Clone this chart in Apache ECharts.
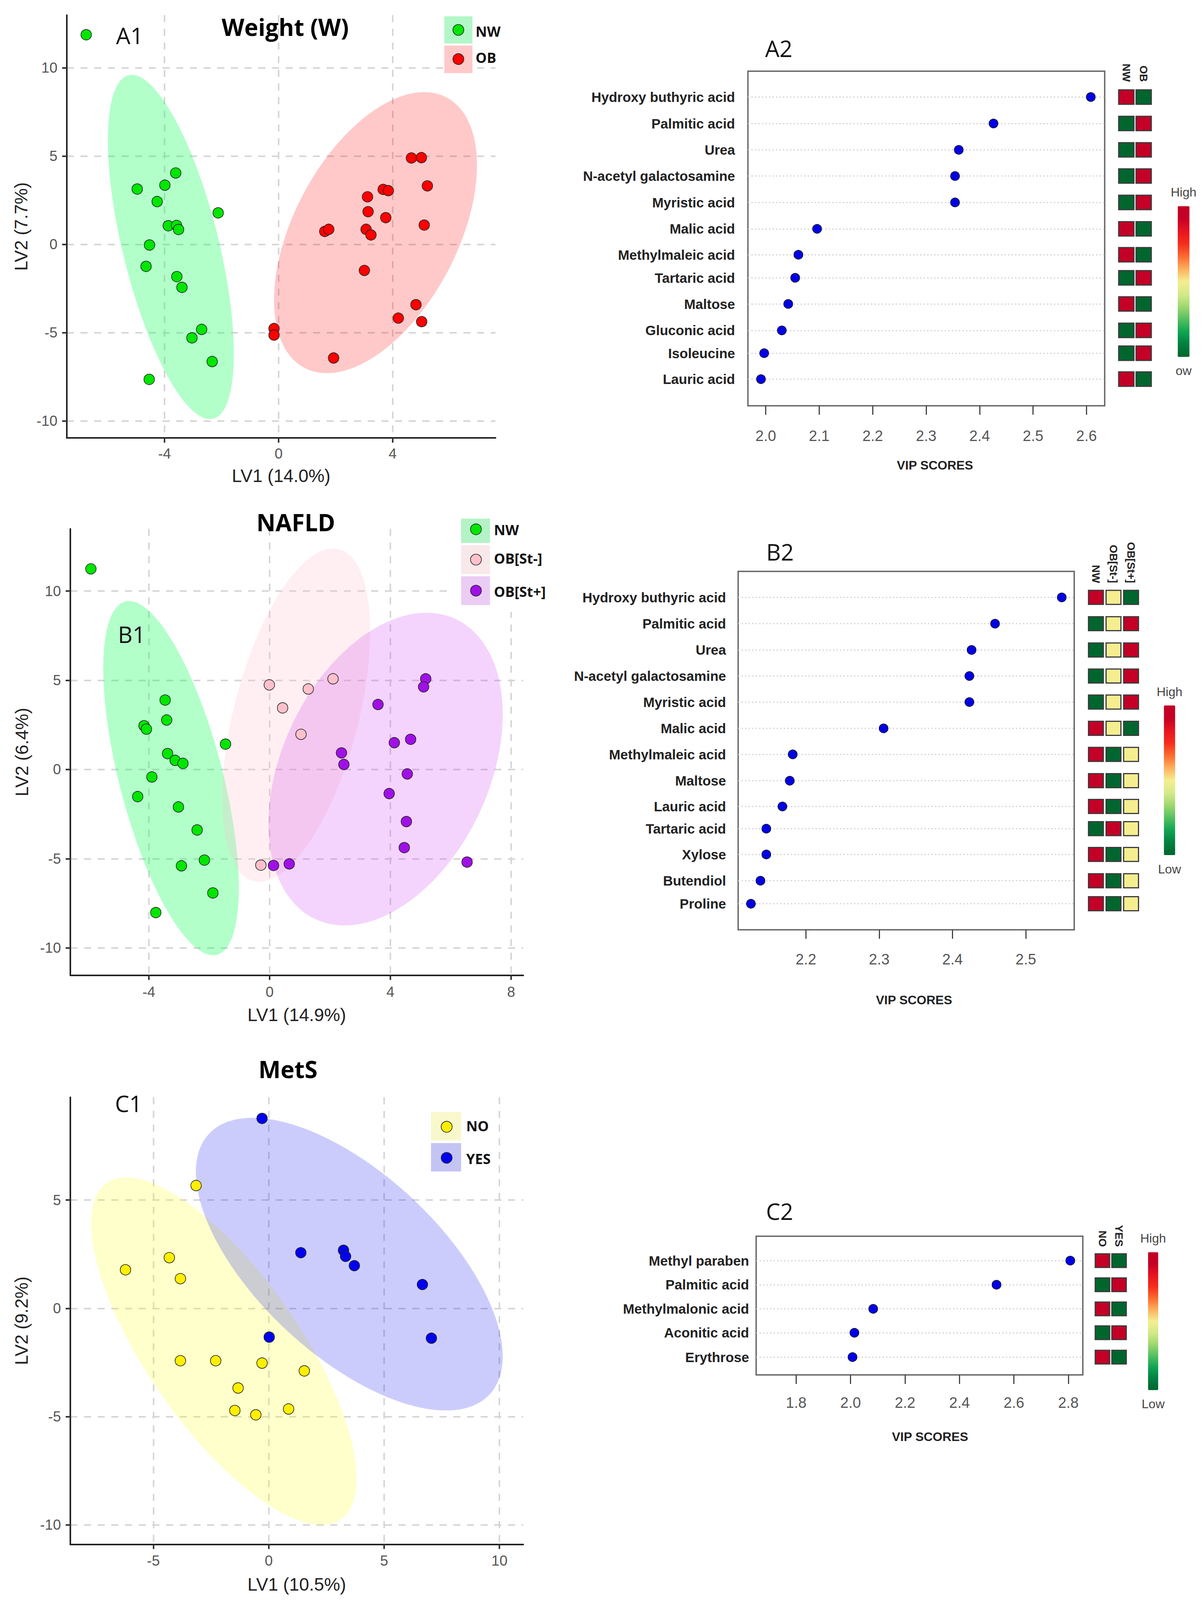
<!DOCTYPE html>
<html>
<head>
<meta charset="utf-8">
<style>html,body{margin:0;padding:0;background:#fff;overflow:hidden}#main{width:3076px;height:100vh}</style>
<script src="https://cdn.jsdelivr.net/npm/echarts@6/dist/echarts.min.js"></script>
</head>
<body>
<div id="main"></div>
<script>
// ---------- Data ----------
// LV scores: [LV1, LV2]
const a1Nw = [[-6.75,11.87],[-4.96,3.13],[-3.99,3.35],[-3.61,4.04],[-4.26,2.42],[-2.12,1.78],[-3.87,1.05],[-3.58,1.07],[-3.51,0.84],[-4.53,-0.04],[-4.65,-1.25],[-3.57,-1.83],[-3.39,-2.44],[-2.70,-4.82],[-3.04,-5.30],[-2.33,-6.64],[-4.54,-7.65]];
const a1Ob = [[4.66,4.89],[5.01,4.91],[5.22,3.31],[3.67,3.11],[3.85,3.04],[3.12,2.69],[3.14,1.85],[3.76,1.51],[5.11,1.09],[1.62,0.73],[1.76,0.85],[3.07,0.85],[3.24,0.53],[3.01,-1.48],[4.82,-3.42],[4.20,-4.18],[5.02,-4.38],[-0.16,-4.77],[-0.16,-5.14],[1.93,-6.44]];
const b1Nw = [[-5.92,11.24],[-3.46,3.89],[-3.41,2.77],[-4.16,2.45],[-4.08,2.26],[-1.46,1.42],[-3.38,0.89],[-3.13,0.51],[-2.87,0.34],[-3.90,-0.42],[-4.37,-1.52],[-3.02,-2.10],[-2.40,-3.39],[-2.16,-5.08],[-2.92,-5.40],[-1.88,-6.92],[-3.77,-8.02]];
const b1StMinus = [[-0.01,4.74],[1.28,4.51],[2.10,5.08],[0.43,3.45],[1.04,1.97],[-0.29,-5.36]];
const b1StPlus = [[5.17,5.08],[5.10,4.63],[3.59,3.64],[4.67,1.69],[4.13,1.50],[2.38,0.93],[2.46,0.28],[4.56,-0.25],[3.96,-1.35],[4.53,-2.92],[4.46,-4.38],[6.54,-5.19],[0.65,-5.29],[0.13,-5.38]];
const c1No = [[-3.15,5.67],[-4.31,2.34],[-6.21,1.78],[-3.83,1.37],[-3.83,-2.42],[-2.30,-2.42],[-0.29,-2.53],[1.54,-2.89],[-1.33,-3.68],[0.86,-4.65],[-1.47,-4.72],[-0.56,-4.92]];
const c1Yes = [[-0.29,8.77],[1.39,2.57],[3.24,2.68],[3.33,2.40],[3.71,1.97],[6.66,1.10],[7.05,-1.38],[0.02,-1.33]];
// Confidence ellipses: [centre LV1, centre LV2, half width, half height, correlation]
const a1NwEllipse = [-3.78,-0.15,2.21,9.75,-0.62];
const a1ObEllipse = [3.40,0.66,3.56,7.96,0.48];
const b1NwEllipse = [-3.265,-0.485,2.245,9.925,-0.62];
const b1StMinusEllipse = [0.88,3.045,2.45,9.335,0.50];
const b1StPlusEllipse = [3.84,0.02,3.88,8.76,0.35];
const c1NoEllipse = [-1.945,-1.975,5.755,8.025,-0.735];
const c1YesEllipse = [3.49,2.04,6.65,6.76,-0.63];
// Axis ticks
const a1XTicks = [-4,0,4], a1YTicks = [-10,-5,0,5,10];
const b1XTicks = [-4,0,4,8], b1YTicks = [-10,-5,0,5,10];
const c1XTicks = [-5,0,5,10], c1YTicks = [-10,-5,0,5];
// VIP panels
const a2Names = ['Hydroxy buthyric acid','Palmitic acid','Urea','N-acetyl galactosamine','Myristic acid','Malic acid','Methylmaleic acid','Tartaric acid','Maltose','Gluconic acid','Isoleucine','Lauric acid'];
const a2Scores = [2.608,2.426,2.361,2.354,2.354,2.096,2.061,2.055,2.042,2.030,1.997,1.991];
const a2Rows = [0,1.03,2.06,3.08,4.11,5.14,6.15,7.05,8.07,9.10,9.99,11];
const a2Columns = ['NW','OB'];
const a2Heat = [[1,0],[0,1],[0,1],[0,1],[0,1],[1,0],[1,0],[0,1],[1,0],[0,1],[0,1],[1,0]];
const a2XTicks = [2.0,2.1,2.2,2.3,2.4,2.5,2.6];
const b2Names = ['Hydroxy buthyric acid','Palmitic acid','Urea','N-acetyl galactosamine','Myristic acid','Malic acid','Methylmaleic acid','Maltose','Lauric acid','Tartaric acid','Xylose','Butendiol','Proline'];
const b2Scores = [2.549,2.458,2.426,2.423,2.423,2.306,2.182,2.178,2.168,2.146,2.146,2.138,2.125];
const b2Rows = [0,1.03,2.06,3.08,4.10,5.13,6.15,7.18,8.19,9.06,10.07,11.10,12];
const b2Columns = ['NW','OB[St-]','OB[St+]'];
const b2Heat = [[1,.5,0],[0,.5,1],[0,.5,1],[0,.5,1],[0,.5,1],[1,.5,0],[1,0,.5],[1,0,.5],[1,0,.5],[0,1,.5],[1,0,.5],[1,0,.5],[1,0,.5]];
const b2XTicks = [2.2,2.3,2.4,2.5];
const c2Names = ['Methyl paraben','Palmitic acid','Methylmalonic acid','Aconitic acid','Erythrose'];
const c2Scores = [2.807,2.536,2.083,2.014,2.007];
const c2Rows = [0,1,2,2.99,4];
const c2Columns = ['NO','YES'];
const c2Heat = [[1,0],[0,1],[1,0],[0,1],[1,0]];
const c2XTicks = [1.8,2.0,2.2,2.4,2.6,2.8];

// ---------- Builders ----------
// The layout below is measured on a 4223-tall reference; the usable window may be shorter, so heights follow it.
const PAGE_H = Math.min(4223, window.innerHeight || 4223);
const S = PAGE_H / 4223;
const SANS = '"Liberation Sans", Arial, sans-serif';
const HEAD = '"Open Sans", sans-serif';
const grid = [], xAxis = [], yAxis = [], series = [], visualMap = [], title = [], graphic = [];

function ellipseRender(params, api) {
  const cx = api.value(0), cy = api.value(1), rx = api.value(2), ry = api.value(3), rho = api.value(4);
  const pts = [];
  for (let i = 0; i < 180; i++) {
    const t = i / 180 * Math.PI * 2;
    pts.push(api.coord([cx + rx * Math.cos(t), cy + ry * (rho * Math.cos(t) + Math.sqrt(1 - rho * rho) * Math.sin(t))]));
  }
  return {type: 'polygon', shape: {points: pts}, style: {fill: api.visual('color')}, silent: true};
}

function scorePanel(o) {
  const g = grid.length;
  grid.push({left: o.l, top: o.t * S, width: o.r - o.l, height: (o.b - o.t) * S, containLabel: false});
  const split = {show: true, lineStyle: {color: '#d6d6d6', width: 4, type: [18, 17]}};
  const line = {show: true, onZero: false, lineStyle: {color: '#222', width: 4}};
  const tick = {show: true, length: 12, lineStyle: {color: '#333', width: 4}};
  xAxis.push({gridIndex: g, type: 'value', min: o.xr[0], max: o.xr[1], name: o.xName, nameLocation: 'middle', nameGap: o.xGap * S,
    nameTextStyle: {fontFamily: SANS, fontSize: 46, color: '#222'},
    axisLine: line, axisTick: Object.assign({}, tick, {customValues: o.xTicks}), splitLine: split,
    axisLabel: {customValues: o.xTicks, margin: o.xMargin * S, fontFamily: SANS, fontSize: 37, color: '#555'}});
  yAxis.push({gridIndex: g, type: 'value', min: o.yr[0], max: o.yr[1], name: o.yName, nameLocation: 'middle', nameGap: o.yGap,
    nameTextStyle: {fontFamily: SANS, fontSize: 46, color: '#222'},
    axisLine: line, axisTick: Object.assign({}, tick, {customValues: o.yTicks}), splitLine: split,
    axisLabel: {customValues: o.yTicks, margin: 24, fontFamily: SANS, fontSize: 37, color: '#555'}});
  o.groups.forEach(s => {
    series.push({type: 'custom', name: s.name + ' ellipse', coordinateSystem: 'cartesian2d', xAxisIndex: g, yAxisIndex: g, z: 2, silent: true,
      encode: {x: 0, y: 1}, itemStyle: {color: s.fill}, renderItem: ellipseRender, data: [s.ellipse], clip: false});
  });
  o.groups.forEach(s => {
    series.push({type: 'scatter', name: s.name, xAxisIndex: g, yAxisIndex: g, z: 4, symbolSize: 27, data: s.points,
      itemStyle: {color: s.color, borderColor: '#222', borderWidth: 1.6, opacity: 1}, clip: false});
  });
}

function legendBlock(items, rx0, rx1, cx, tx, mask) {
  if (mask) graphic.push({type: 'rect', z: 90, shape: {x: mask.x, y: mask.y * S, width: mask.width, height: mask.height * S}, style: {fill: '#fff'}});
  items.forEach(it => {
    graphic.push({type: 'rect', z: 91, shape: {x: rx0, y: it.y0 * S, width: rx1 - rx0, height: (it.y1 - it.y0) * S}, style: {fill: it.swatch}});
    graphic.push({type: 'circle', z: 92, shape: {cx: cx, cy: it.cy * S, r: 14}, style: {fill: it.color, stroke: '#222', lineWidth: 1.6}});
    graphic.push({type: 'text', z: 92, style: {x: tx, y: it.ty * S, text: it.label, fill: '#111', font: 'bold 36px ' + HEAD, textAlign: 'left', textVerticalAlign: 'middle'}});
  });
}

function vipPanel(o) {
  const g = grid.length;
  grid.push({show: true, left: o.l, top: o.t * S, width: o.r - o.l, height: (o.b - o.t) * S, containLabel: false, backgroundColor: 'transparent', borderColor: '#666', borderWidth: 3.5});
  const rowName = v => o.names[o.rows.indexOf(v)];
  xAxis.push({gridIndex: g, type: 'value', min: o.xr[0], max: o.xr[1], name: 'VIP SCORES', nameLocation: 'middle', nameGap: o.nameGap * S,
    nameTextStyle: {fontFamily: SANS, fontWeight: 'bold', fontSize: 32, color: '#222', padding: [0, 0, 0, o.nameShift]},
    axisLine: {show: false, onZero: false}, splitLine: {show: false},
    axisTick: {show: true, length: 23, customValues: o.xTicks, lineStyle: {color: '#444', width: 3}},
    axisLabel: {customValues: o.xTicks, formatter: v => Number(v).toFixed(1), margin: o.xMargin * S, fontFamily: SANS, fontSize: 38, color: '#555'}});
  yAxis.push({gridIndex: g, type: 'value', inverse: true, min: o.yr[0], max: o.yr[1], axisLine: {show: false, onZero: false},
    axisTick: {show: false, customValues: o.rows},
    splitLine: {show: true, lineStyle: {color: '#cfcfcf', width: 3, type: [3, 6]}},
    axisLabel: {customValues: o.rows, formatter: rowName, margin: o.labelMargin, fontFamily: SANS, fontWeight: 'bold', fontSize: 35, color: '#222'}});
  series.push({type: 'scatter', name: 'VIP', xAxisIndex: g, yAxisIndex: g, z: 4, symbolSize: 23,
    data: o.scores.map((v, i) => [v, o.rows[i]]),
    itemStyle: {color: '#0000e6', borderColor: '#111', borderWidth: 1.5, opacity: 1}, clip: false});
  // heat cells
  const h = grid.length;
  grid.push({left: o.hl, top: o.t * S, width: o.hr - o.hl, height: (o.b - o.t) * S, containLabel: false});
  xAxis.push({gridIndex: h, type: 'category', position: 'top', offset: o.headOffset * S, data: o.columns,
    axisLine: {show: false, onZero: false}, axisTick: {show: false}, splitLine: {show: false},
    axisLabel: {interval: 0, rotate: 90, margin: 4, fontFamily: SANS, fontWeight: 'bold', fontSize: 28, color: '#222'}});
  yAxis.push({gridIndex: h, type: 'value', inverse: true, min: o.yr[0], max: o.yr[1], show: false, splitLine: {show: false}});
  const cells = [];
  o.heat.forEach((r, i) => r.forEach((v, c) => cells.push([c, o.rows[i], v])));
  const si = series.length;
  const cw = o.cellW, ch = o.cellH * S;
  series.push({type: 'custom', name: 'Relative level', coordinateSystem: 'cartesian2d', xAxisIndex: h, yAxisIndex: h, z: 4, silent: true,
    encode: {x: 0, y: 1}, data: cells, clip: false,
    renderItem: (p, api) => {
      const c = api.coord([api.value(0), api.value(1)]);
      return {type: 'rect', shape: {x: c[0] - cw / 2, y: c[1] - ch / 2, width: cw, height: ch},
        style: {fill: api.visual('color'), stroke: '#3c3c3c', lineWidth: 3}};
    }});
  visualMap.push({type: 'continuous', seriesIndex: si, dimension: 2, min: 0, max: 1, calculable: false, hoverLink: false, realtime: false,
    orient: 'vertical', left: o.barL, top: o.barTextTop * S, padding: 0, itemWidth: o.barW, itemHeight: o.barH * S, textGap: o.barGap * S, text: ['High', o.lowText],
    textStyle: {fontFamily: SANS, fontSize: 32, color: '#444'},
    inRange: {color: ['#00662e', '#008040', '#10a552', '#55c060', '#9fd870', '#d5ea8a', '#f4ee90', '#fdb05c', '#fb6a30', '#f52d1c', '#e8141f', '#c40026', '#c40026']}});
}

// ---------- Panels ----------
scorePanel({l: 171, t: 40, r: 1268, b: 1156, xr: [-7.43, 7.61], yr: [-10.97, 12.98], xTicks: a1XTicks, yTicks: a1YTicks,
  xName: 'LV1 (14.0%)', yName: 'LV2 (7.7%)', xGap: 76, yGap: 94, xMargin: 22, groups: [
    {name: 'NW', points: a1Nw, ellipse: a1NwEllipse, color: '#00e600', fill: 'rgba(0,255,80,0.3)'},
    {name: 'OB', points: a1Ob, ellipse: a1ObEllipse, color: '#ff0000', fill: 'rgba(255,0,0,0.21)'}]});
scorePanel({l: 180, t: 1396, r: 1339, b: 2574, xr: [-6.6, 8.4], yr: [-11.53, 13.48], xTicks: b1XTicks, yTicks: b1YTicks,
  xName: 'LV1 (14.9%)', yName: 'LV2 (6.4%)', xGap: 81, yGap: 101, xMargin: 25, groups: [
    {name: 'NW', points: b1Nw, ellipse: b1NwEllipse, color: '#00e600', fill: 'rgba(0,255,80,0.3)'},
    {name: 'OB[St-]', points: b1StMinus, ellipse: b1StMinusEllipse, color: '#ffc0cb', fill: 'rgba(255,192,203,0.25)'},
    {name: 'OB[St+]', points: b1StPlus, ellipse: b1StPlusEllipse, color: '#a010e6', fill: 'rgba(204,51,243,0.21)'}]});
scorePanel({l: 180, t: 2896, r: 1339, b: 4076, xr: [-8.6, 11.03], yr: [-10.9, 9.75], xTicks: c1XTicks, yTicks: c1YTicks,
  xName: 'LV1 (10.5%)', yName: 'LV2 (9.2%)', xGap: 82, yGap: 102, xMargin: 24, groups: [
    {name: 'NO', points: c1No, ellipse: c1NoEllipse, color: '#ffee00', fill: 'rgba(255,255,0,0.2)'},
    {name: 'YES', points: c1Yes, ellipse: c1YesEllipse, color: '#0000f0', fill: 'rgba(0,0,240,0.2)'}]});

vipPanel({l: 1914, t: 188, r: 2827, b: 1071, xr: [1.9666, 2.634], yr: [-1.007, 12.04], names: a2Names, scores: a2Scores, rows: a2Rows, xTicks: a2XTicks,
  columns: a2Columns, heat: a2Heat, hl: 2860, hr: 2949, cellW: 39, cellH: 38, headOffset: -32, labelMargin: 33, xMargin: 60, nameGap: 140, nameShift: 44,
  barL: 2996, barTextTop: 491, barW: 30, barH: 398, barGap: 20, lowText: 'ow'});
vipPanel({l: 1889, t: 1508, r: 2749, b: 2454, xr: [2.1076, 2.566], yr: [-1.02, 13.02], names: b2Names, scores: b2Scores, rows: b2Rows, xTicks: b2XTicks,
  columns: b2Columns, heat: b2Heat, hl: 2782, hr: 2917, cellW: 38, cellH: 37, headOffset: -35, labelMargin: 31, xMargin: 59, nameGap: 169, nameShift: 40,
  barL: 2960, barTextTop: 1809, barW: 29, barH: 395, barGap: 20, lowText: 'Low'});
vipPanel({l: 1935, t: 3263, r: 2771, b: 3629, xr: [1.653, 2.853], yr: [-1.01, 4.74], names: c2Names, scores: c2Scores, rows: c2Rows, xTicks: c2XTicks,
  columns: c2Columns, heat: c2Heat, hl: 2800, hr: 2885, cellW: 37, cellH: 36, headOffset: -32, labelMargin: 18, xMargin: 54, nameGap: 147, nameShift: 54,
  barL: 2918, barTextTop: 3252, barW: 26, barH: 364, barGap: 20, lowText: 'Low'});

// Titles and panel tags
[['Weight (W)', 730, 71], ['NAFLD', 757, 1378], ['MetS', 737, 2822]].forEach(t => title.push({text: t[0], left: t[1], top: t[2] * S, padding: 0, textAlign: 'center', textVerticalAlign: 'middle', textStyle: {fontFamily: HEAD, fontWeight: 'bold', fontSize: 60, color: '#000'}}));
[['A1', 332, 93], ['B1', 337, 1674], ['C1', 329, 2912], ['A2', 1993, 127], ['B2', 1996, 1456], ['C2', 1995, 3197]].forEach(t => title.push({text: t[0], left: t[1], top: t[2] * S, padding: 0, textAlign: 'center', textVerticalAlign: 'middle', textStyle: {fontFamily: HEAD, fontWeight: 'normal', fontSize: 58, color: '#111'}}));

// Legends
legendBlock([{y0: 43, y1: 115, cy: 79, ty: 83, label: 'NW', color: '#00e600', swatch: '#b3f7c8'},
             {y0: 120, y1: 193, cy: 156, ty: 152, label: 'OB', color: '#ff0000', swatch: '#ffc9c9'}], 1137, 1209, 1173, 1217);
legendBlock([{y0: 1369, y1: 1433, cy: 1397, ty: 1399, label: 'NW', color: '#00e600', swatch: '#b3f3c6'},
             {y0: 1439, y1: 1515, cy: 1477, ty: 1474, label: 'OB[St-]', color: '#ffc0cb', swatch: '#f8e8ea'},
             {y0: 1521, y1: 1597, cy: 1559, ty: 1561, label: 'OB[St+]', color: '#a010e6', swatch: '#ebcdf3'}], 1180, 1254, 1218, 1264,
            {x: 1150, y: 1340, width: 189, height: 275});
legendBlock([{y0: 2935, y1: 3010, cy: 2974, ty: 2972, label: 'NO', color: '#ffee00', swatch: '#f8f8cc'},
             {y0: 3017, y1: 3092, cy: 3056, ty: 3058, label: 'YES', color: '#0000f0', swatch: '#c4c4f4'}], 1103, 1180, 1143, 1193);

const chart = echarts.init(document.getElementById('main'), null, {renderer: 'svg', width: 3076, height: PAGE_H});
chart.setOption({animation: false, backgroundColor: '#fff', tooltip: {show: false}, title, grid, xAxis, yAxis, series, visualMap, graphic: {elements: graphic}});
</script>
</body>
</html>
